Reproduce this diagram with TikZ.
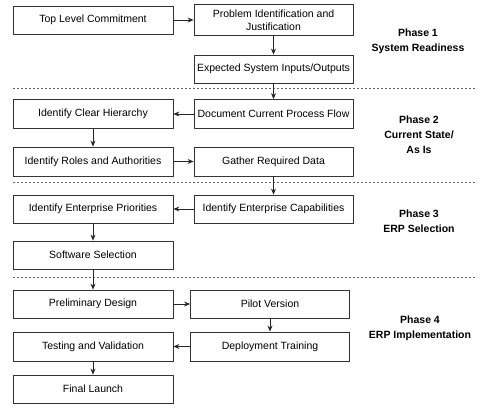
\documentclass[tikz,border=0pt]{standalone}
\usepackage{fontspec}
\setmainfont{Liberation Sans}
\usetikzlibrary{arrows.meta}
\begin{document}
\begin{tikzpicture}[x=1pt,y=-1pt,
  box/.style={draw=black!80,line width=0.8pt,rectangle,inner sep=1pt,align=center,
    font=\fontsize{10.5}{12.5}\selectfont,minimum width=#1},
  box/.default=160pt,
  conn/.style={draw=black!85,line width=0.8pt,-{Stealth[length=6pt,width=5pt]}},
  sep/.style={draw=black!60,line width=0.6pt,dash pattern=on 2pt off 2pt},
  phase/.style={align=center,font=\bfseries\fontsize{10.5}{15}\selectfont}]
\useasboundingbox (0,0) rectangle (480,410);
% Phase 1
\node[box,minimum height=28pt] (tlc) at (93,20) {Top Level Commitment};
\node[box=159pt,minimum height=31pt] (pij) at (273.5,20) {Problem Identification and\\Justification};
\node[box=159pt,minimum height=28pt] (esio) at (273.5,69) {Expected System Inputs/Outputs};
% Phase 2
\node[box=159pt,minimum height=29pt] (dcpf) at (273.5,114) {Document Current Process Flow};
\node[box,minimum height=29pt] (ich) at (93,114) {Identify Clear Hierarchy};
\node[box,minimum height=29pt] (ira) at (93,161.5) {Identify Roles and Authorities};
\node[box=159pt,minimum height=29pt] (grd) at (273.5,161.5) {Gather Required Data};
% Phase 3
\node[box=159pt,minimum height=28pt] (iec) at (273.5,209) {Identify Enterprise Capabilities};
\node[box,minimum height=28pt] (iep) at (93,209) {Identify Enterprise Priorities};
\node[box,minimum height=28pt] (ss) at (93,255) {Software Selection};
% Phase 4
\node[box,minimum height=28pt] (pd) at (93,304) {Preliminary Design};
\node[box=159pt,minimum height=28pt] (pv) at (270,304) {Pilot Version};
\node[box=159pt,minimum height=29pt] (dt) at (270,346.5) {Deployment Training};
\node[box,minimum height=29pt] (tv) at (93,346.5) {Testing and Validation};
\node[box,minimum height=28pt] (fl) at (93,389) {Final Launch};
% separators
\coordinate (s1a) at (13,88); \coordinate (s1b) at (475,88);
\coordinate (s2a) at (13,182); \coordinate (s2b) at (475,182);
\coordinate (s3a) at (13,277); \coordinate (s3b) at (475,277);
\draw[sep] (s1a) -- (s1b);
\draw[sep] (s2a) -- (s2b);
\draw[sep] (s3a) -- (s3b);
% phase labels
\node[phase] (p1) at (418,41) {Phase 1\\System Readiness};
\node[phase] (p2) at (419,135) {Phase 2\\Current State/\\As Is};
\node[phase] (p3) at (419,221) {Phase 3\\ERP Selection};
\node[phase] (p4) at (420,328) {Phase 4\\ERP Implementation};
% connectors
\draw[conn] (tlc) -- (pij);
\draw[conn] (pij) -- (esio);
\draw[conn] (esio) -- (dcpf);
\draw[conn] (dcpf) -- (ich);
\draw[conn] (ich) -- (ira);
\draw[conn] (ira) -- (grd);
\draw[conn] (grd) -- (iec);
\draw[conn] (iec) -- (iep);
\draw[conn] (iep) -- (ss);
\draw[conn] (ss) -- (pd);
\draw[conn] (pd) -- (pv);
\draw[conn] (pv) -- (dt);
\draw[conn] (dt) -- (tv);
\draw[conn] (tv) -- (fl);
\end{tikzpicture}
\end{document}
